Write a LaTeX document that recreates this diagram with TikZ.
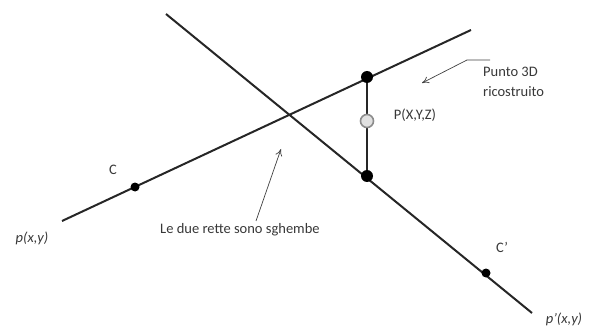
\documentclass[tikz,border=0pt]{standalone}
\usepackage{fontspec}
\setmainfont{Carlito}
\usetikzlibrary{arrows.meta}
\begin{document}
\begin{tikzpicture}[x=1pt,y=-1pt,
  ray/.style={line width=2pt,black!85},
  dotbig/.style={circle,fill=black,inner sep=0pt,minimum size=12pt},
  dotsmall/.style={circle,fill=black,inner sep=0pt,minimum size=9pt},
  hollow/.style={circle,fill=black!12,draw=black!45,line width=1.6pt,inner sep=0pt,minimum size=13pt},
  lbl/.style={font=\fontsize{14.5}{17}\selectfont,text=black!78,inner sep=0pt},
  note/.style={-{To[length=7pt,width=7pt]},black!75,line width=0.7pt}]
\useasboundingbox (0,0) rectangle (590,329);
% line 1 (through C)
\coordinate (a1) at (62,221);
\coordinate (a2) at (471,30);
% line 2 (through C')
\coordinate (b1) at (166,14);
\coordinate (b2) at (532,313);
\draw[ray] (a1) -- (a2);
\draw[ray] (b1) -- (b2);
\node[dotsmall] (C) at (135,187) {};
\node[dotsmall] (Cp) at (486,273) {};
\node[dotbig] (top) at (367,77) {};
\node[dotbig] (bot) at (367,176) {};
\draw[ray] (top) -- (bot);
\node[hollow] (P) at (367,121) {};
% labels
\node[lbl] (lC) at (113,170) {C};
\node[lbl] (lCp) at (502,247) {C’};
\node[lbl,font=\fontsize{14.5}{17}\selectfont\itshape] (lp) at (32,238) {p(x,y)};
\node[lbl,font=\fontsize{14.5}{17}\selectfont\itshape] (lpp) at (564,319) {p’(x,y)};
\node[lbl] (lP) at (415,115) {P(X,Y,Z)};
\node[lbl,align=left,anchor=north west,font=\fontsize{14.5}{19.5}\selectfont] (lpunto) at (483,67) {Punto 3D\\ricostruito};
\node[lbl,anchor=west] (lrette) at (160,230) {Le due rette sono sghembe};
% arrows
\coordinate (n1) at (490,60);
\coordinate (n2) at (467,60);
\coordinate (n3) at (422,83);
\draw[note] (n1) -- (n2) -- (n3);
\coordinate (m1) at (256,221);
\coordinate (m2) at (281,149);
\draw[note] (m1) -- (m2);
\end{tikzpicture}
\end{document}
